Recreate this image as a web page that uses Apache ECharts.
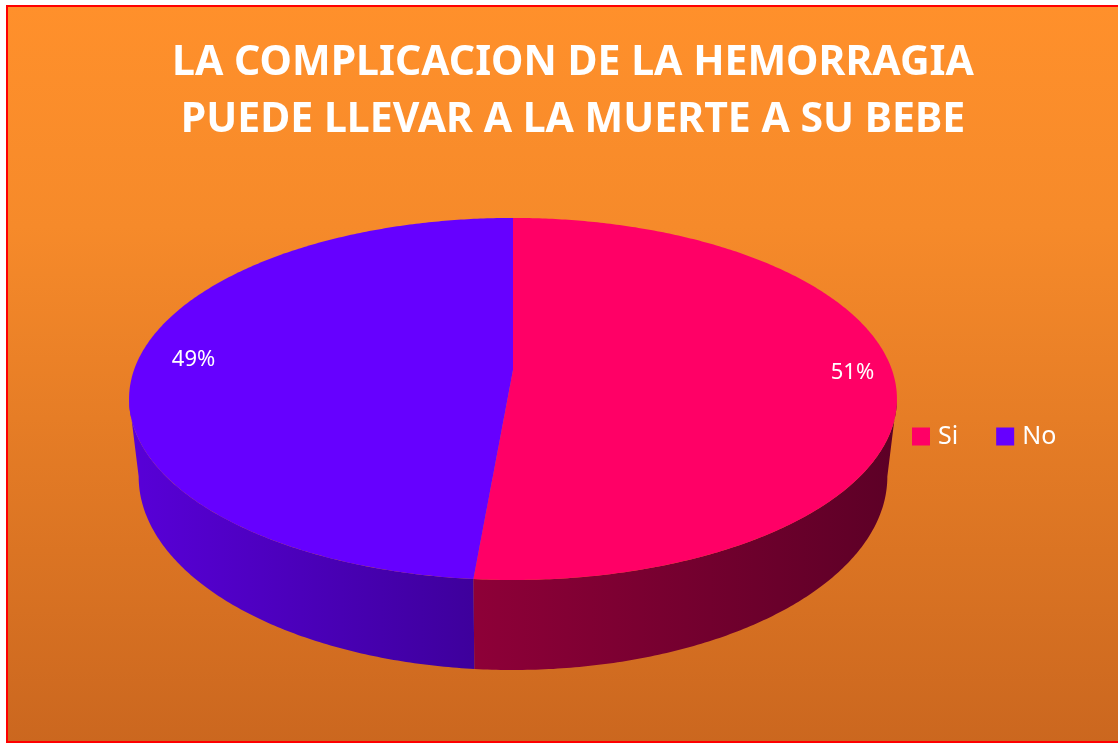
<!DOCTYPE html>
<html>
<head>
<meta charset="utf-8">
<script src="https://cdn.jsdelivr.net/npm/echarts@6/dist/echarts.min.js"></script>
<style>
  html, body { margin: 0; padding: 0; background: #fff; }
  #main { width: 1118px; height: 744px; }
</style>
</head>
<body>
<div id="main"></div>
<script>
const categories = ["Si", "No"];
const values = [51.4, 48.6];
const topColors = ["#FF0066", "#6600FF"];
const wallColors = [["#8E0038", "#5C0026"], ["#5800D8", "#3E009C"]];

const titleText = "LA COMPLICACION DE LA HEMORRAGIA\nPUEDE LLEVAR A LA MUERTE A SU BEBE";

// fake 3d pie geometry (perspective ellipse)
const CX = 513, CY = 370, A = 379, B = 176.4, K = 0.16, H = 75.6;
const BOT_SCALE = 0.975;            // bottom rim a bit narrower
const SIL = Math.acos(-K);          // silhouette angle (right side)
const total = values.reduce((a, b) => a + b, 0);

function proj(theta, r, drop, sx = 1) {
    const u = r * Math.sin(theta), w = r * Math.cos(theta);
    const d = 1 + K * w;
    return [CX + sx * A * u / d, CY - B * w / d + drop / d];
}

function arc(t1, t2, drop, sx) {
    const pts = [];
    const n = Math.max(2, Math.ceil((t2 - t1) / 0.01));
    for (let i = 0; i <= n; i++) pts.push(proj(t1 + (t2 - t1) * i / n, 1, drop, sx));
    return pts;
}

function sliceRender(idx) {
    return function (params, api) {
        const v = api.value(0);
        let before = 0;
        for (let i = 0; i < idx; i++) before += values[i];
        const t1 = before / total * Math.PI * 2;
        const t2 = (before + v) / total * Math.PI * 2;
        const children = [];

        // side wall (only the front part)
        const lo = Math.max(t1, SIL), hi = Math.min(t2, Math.PI * 2 - SIL);
        if (lo < hi) {
            const top = arc(lo, hi, 0);
            const bot = arc(lo, hi, H, BOT_SCALE).reverse();
            const xs = top.map(p => p[0]);
            const x0 = Math.min(...xs), x1 = Math.max(...xs);
            children.push({
                type: "polygon",
                shape: { points: top.concat(bot) },
                style: {
                    fill: new echarts.graphic.LinearGradient(x0, 0, x1, 0, [
                        { offset: 0, color: wallColors[idx][0] },
                        { offset: 1, color: wallColors[idx][1] }
                    ], true)
                }
            });
        }

        // top face
        children.push({
            type: "polygon",
            shape: { points: [[CX, CY]].concat(arc(t1, t2, 0)) },
            style: { fill: topColors[idx] }
        });

        // percent label
        const mid = (t1 + t2) / 2;
        const lp = proj(mid, 0.87, 0);
        children.push({
            type: "text",
            style: {
                text: Math.round(v / total * 100) + "%",
                x: lp[0] + 8, y: lp[1] - 4,
                fill: "#fff",
                fontSize: 22,
                fontFamily: "Noto Sans",
                align: "center",
                verticalAlign: "middle"
            }
        });

        return { type: "group", children };
    };
}

const chart = echarts.init(document.getElementById("main"));

chart.setOption({
    animation: false,
    graphic: [
        {
            type: "rect",
            shape: { x: 7, y: 6, width: 1118, height: 736 },
            style: {
                fill: new echarts.graphic.LinearGradient(0, 0, 0, 1, [
                    { offset: 0, color: "#FF902B" },
                    { offset: 0.3, color: "#F68A2A" },
                    { offset: 1, color: "#CB671F" }
                ]),
                stroke: "#FF0000",
                lineWidth: 2
            }
        }
    ],
    title: {
        text: titleText,
        left: 568,
        top: 30,
        textAlign: "center",
        textStyle: {
            color: "#fff",
            fontSize: 41,
            fontWeight: "bold",
            fontFamily: "Noto Sans",
            lineHeight: 57
        }
    },
    legend: {
        data: categories,
        left: 907,
        top: 419,
        icon: "rect",
        itemWidth: 18,
        itemHeight: 18,
        itemGap: 38,
        textStyle: { color: "#fff", fontSize: 25, fontFamily: "Noto Sans", padding: [0, 0, 0, 3] }
    },
    series: categories.map((name, i) => ({
        name: name,
        type: "custom",
        coordinateSystem: "none",
        itemStyle: { color: topColors[i] },
        data: [[values[i]]],
        renderItem: sliceRender(i)
    }))
});
</script>
</body>
</html>
